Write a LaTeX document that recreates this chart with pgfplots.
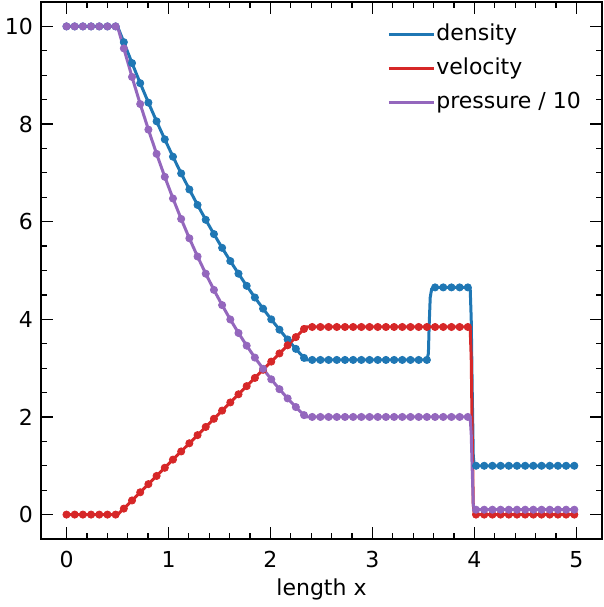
\documentclass[border=0pt]{standalone}
\usepackage{fontspec}
\setmainfont{DejaVu Sans}
\usepackage{pgfplots}
\usepackage{pgfplotstable}
\pgfplotsset{compat=1.18}
\definecolor{tabblue}{HTML}{1F77B4}
\definecolor{tabred}{HTML}{D62728}
\definecolor{tabpurple}{HTML}{9467BD}

% line data (fine resolution near discontinuities)
\pgfplotstableread{
x rho u p
0 10 0 10
0.4818 10 0 10
0.5 10 0 10
0.5621 9.677 0.1225 9.550
0.6424 9.249 0.2898 8.965
0.7227 8.837 0.4570 8.410
0.803 8.439 0.6243 7.886
0.8833 8.056 0.7916 7.389
0.9636 7.687 0.9589 6.919
1.0439 7.331 1.1262 6.475
1.1242 6.989 1.2935 6.056
1.2045 6.660 1.4608 5.660
1.2848 6.343 1.6281 5.287
1.3651 6.039 1.7954 4.935
1.4454 5.746 1.9627 4.603
1.5257 5.464 2.1300 4.291
1.606 5.194 2.2972 3.997
1.6863 4.935 2.4645 3.720
1.7666 4.686 2.6318 3.460
1.8469 4.447 2.7991 3.216
1.9272 4.218 2.9664 2.987
2.0075 3.999 3.1337 2.771
2.0878 3.788 3.3010 2.569
2.1681 3.587 3.4683 2.380
2.2484 3.395 3.6356 2.203
2.3287 3.210 3.8029 2.038
2.348 3.168 3.843 2.000
3.5332 3.168 3.843 2.000
3.548 3.30 3.843 2.000
3.556 3.90 3.843 2.000
3.566 4.45 3.843 2.000
3.580 4.62 3.843 2.000
3.6135 4.654 3.843 2.000
3.9347 4.654 3.843 2.000
3.958 4.62 3.80 1.98
3.968 4.00 3.20 1.65
3.978 2.50 1.60 0.90
3.988 1.20 0.20 0.20
3.998 1.01 0.01 0.105
4.015 1 0 0.1
4.9786 1 0 0.1
}\linedata

% marker data
\pgfplotstableread{
x rho u p
0 10 0 10
0.0803 10 0 10
0.1606 10 0 10
0.2409 10 0 10
0.3212 10 0 10
0.4015 10 0 10
0.4818 10 0 10
0.5621 9.677 0.1225 9.550
0.6424 9.249 0.2898 8.965
0.7227 8.837 0.4570 8.410
0.803 8.439 0.6243 7.886
0.8833 8.056 0.7916 7.389
0.9636 7.687 0.9589 6.919
1.0439 7.331 1.1262 6.475
1.1242 6.989 1.2935 6.056
1.2045 6.660 1.4608 5.660
1.2848 6.343 1.6281 5.287
1.3651 6.039 1.7954 4.935
1.4454 5.746 1.9627 4.603
1.5257 5.464 2.1300 4.291
1.606 5.194 2.2972 3.997
1.6863 4.935 2.4645 3.720
1.7666 4.686 2.6318 3.460
1.8469 4.447 2.7991 3.216
1.9272 4.218 2.9664 2.987
2.0075 3.999 3.1337 2.771
2.0878 3.788 3.3010 2.569
2.1681 3.587 3.4683 2.380
2.2484 3.395 3.6356 2.203
2.3287 3.210 3.8029 2.038
2.409 3.168 3.843 2.000
2.4893 3.168 3.843 2.000
2.5696 3.168 3.843 2.000
2.6499 3.168 3.843 2.000
2.7302 3.168 3.843 2.000
2.8105 3.168 3.843 2.000
2.8908 3.168 3.843 2.000
2.9711 3.168 3.843 2.000
3.0514 3.168 3.843 2.000
3.1317 3.168 3.843 2.000
3.212 3.168 3.843 2.000
3.2923 3.168 3.843 2.000
3.3726 3.168 3.843 2.000
3.4529 3.168 3.843 2.000
3.5332 3.168 3.843 2.000
3.6135 4.654 3.843 2.000
3.6938 4.654 3.843 2.000
3.7741 4.654 3.843 2.000
3.8544 4.654 3.843 2.000
3.9347 4.654 3.843 2.000
4.015 1 0 0.1
4.0953 1 0 0.1
4.1756 1 0 0.1
4.2559 1 0 0.1
4.3362 1 0 0.1
4.4165 1 0 0.1
4.4968 1 0 0.1
4.5771 1 0 0.1
4.6574 1 0 0.1
4.7377 1 0 0.1
4.818 1 0 0.1
4.8983 1 0 0.1
4.9786 1 0 0.1
}\markdata

\begin{document}
\begin{tikzpicture}
\begin{axis}[
  scale only axis, width=280.5pt, height=268.5pt,
  xmin=-0.25, xmax=5.25, ymin=-0.5, ymax=10.5,
  xtick={0,1,2,3,4,5}, ytick={0,2,4,6,8,10},
  minor x tick num=4, minor y tick num=3,
  tick align=inside, tick pos=both,
  major tick length=6pt, minor tick length=3pt,
  every major tick/.append style={black, line width=0.8pt},
  every minor tick/.append style={black, line width=0.6pt},
  axis line style={line width=0.8pt},
  /pgf/number format/assume math mode=true,
  tick label style={font=\fontsize{11pt}{13pt}\selectfont},
  yticklabel style={xshift=-0.5pt},
  xticklabel style={yshift=-2.5pt},
  xlabel={length x},
  xlabel style={font=\fontsize{11pt}{13pt}\selectfont, yshift=1.5pt},
  legend style={draw=none, fill=none, at={(0.606,0.971)}, anchor=north west,
    font=\fontsize{11pt}{13pt}\selectfont, row sep=4.6pt, column sep=0pt,
    nodes={inner xsep=0.5pt, inner ysep=1pt, text height=8.2pt, text depth=2.2pt}},
  legend cell align=left,
  legend image code/.code={\draw[#1] (0pt,0pt) -- (22.5pt,0pt);},
]
\addplot[tabblue, line width=1.5pt] table[x=x, y=rho] {\linedata};
\addlegendentry{density}
\addplot[only marks, mark=*, mark size=1.8pt, tabblue, forget plot] table[x=x, y=rho] {\markdata};
\addplot[tabred, line width=1.5pt] table[x=x, y=u] {\linedata};
\addlegendentry{velocity}
\addplot[only marks, mark=*, mark size=1.8pt, tabred, forget plot] table[x=x, y=u] {\markdata};
\addplot[tabpurple, line width=1.5pt] table[x=x, y=p] {\linedata};
\addlegendentry{pressure / 10}
\addplot[only marks, mark=*, mark size=1.8pt, tabpurple, forget plot] table[x=x, y=p] {\markdata};
\end{axis}
\pgfresetboundingbox
\path[use as bounding box] ([shift={(-20.5pt,-34pt)}]current axis.south west) rectangle ([shift={(1pt,1pt)}]current axis.north east);
\end{tikzpicture}
\end{document}
